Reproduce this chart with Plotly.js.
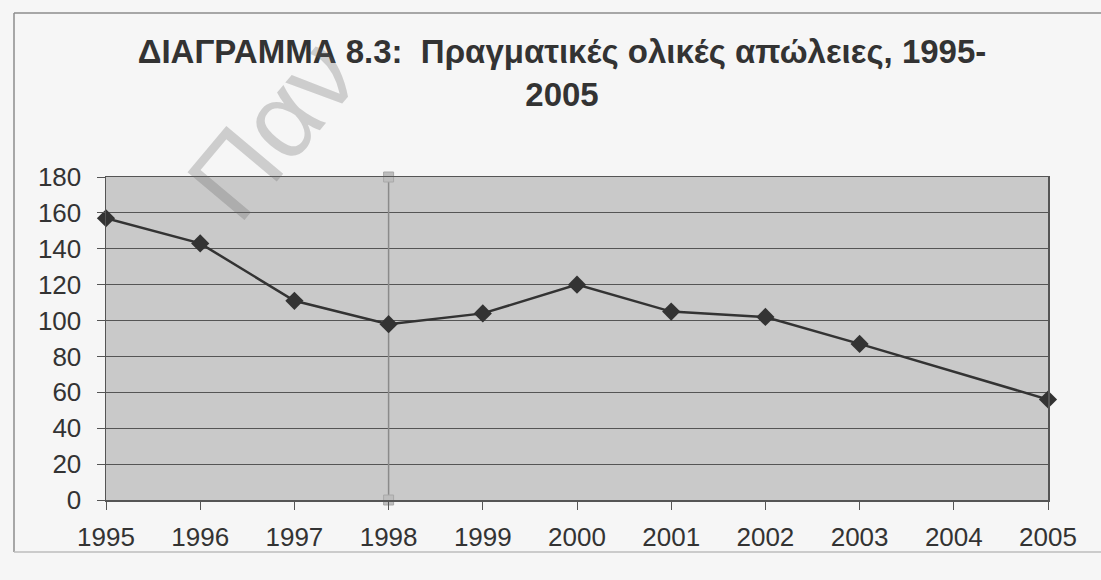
<!DOCTYPE html>
<html>
<head>
<meta charset="utf-8">
<script src="https://cdn.plot.ly/plotly-3.0.1.min.js"></script>
<style>html,body{margin:0;padding:0;background:#f6f6f6;}</style>
</head>
<body>
<div id="chart" style="width:1101px;height:580px;"></div>
<script>
const years = [1995, 1996, 1997, 1998, 1999, 2000, 2001, 2002, 2003, 2004, 2005];
const losses = [157, 143, 111, 98, 104, 120, 105, 102, 87, null, 56];
const markerYear = [1998, 1998];
const markerRange = [0, 180];
const yTicks = [0, 20, 40, 60, 80, 100, 120, 140, 160, 180];
const titleText = "ΔΙΑΓΡΑΜΜΑ 8.3:  Πραγματικές ολικές απώλειες, 1995-<br>2005";
const watermark = "Παν";

const L = 106, R = 1048, T = 177, B = 500;
const px = v => (v - L) / (R - L);
const py = v => (B - v) / (B - T);

const traces = [
  {
    x: markerYear, y: markerRange, type: 'scatter', mode: 'lines+markers',
    line: {color: '#8a8a8a', width: 1.5},
    marker: {symbol: 'square', size: 10, color: '#bdbdbd', line: {color: '#a8a8a8', width: 1}},
    cliponaxis: false, hoverinfo: 'skip', showlegend: false
  },
  {
    x: years, y: losses, type: 'scatter', mode: 'lines+markers',
    connectgaps: true,
    line: {color: '#333333', width: 2.5},
    marker: {symbol: 'diamond', size: 14, color: '#333333'},
    cliponaxis: false, showlegend: false
  }
];

const tickFont = {family: 'Liberation Sans, Arial, sans-serif', size: 26, color: '#333333'};

const layout = {
  width: 1101, height: 580,
  margin: {l: L, r: 1101 - R, t: T, b: 580 - B},
  paper_bgcolor: '#f6f6f6',
  plot_bgcolor: '#c9c9c9',
  showlegend: false,
  title: {
    text: titleText,
    font: {family: 'Liberation Sans, Arial, sans-serif', size: 33, color: '#333333', weight: 'bold'},
    x: 562 / 1101, xanchor: 'center', xref: 'container',
    y: 1 - 63 / 580, yanchor: 'top', yref: 'container'
  },
  xaxis: {
    range: [1995, 2005], tickvals: years, ticktext: years.map(String),
    showgrid: false, zeroline: false,
    showline: true, linecolor: '#555555', linewidth: 1.5, mirror: true,
    ticks: 'outside', ticklen: 8, tickcolor: '#555555', tickwidth: 1,
    ticklabelstandoff: 5,
    tickfont: tickFont
  },
  yaxis: {
    range: [0, 180], tickvals: yTicks,
    showgrid: true, gridcolor: '#555555', gridwidth: 1, zeroline: false,
    showline: true, linecolor: '#555555', linewidth: 1.5, mirror: true,
    ticks: 'outside', ticklen: 8, tickcolor: '#555555', tickwidth: 1,
    ticklabelstandoff: 10,
    tickfont: tickFont
  },
  shapes: [
    {type: 'line', xref: 'paper', yref: 'paper', x0: px(14), x1: px(14), y0: py(13), y1: py(552), line: {color: '#8c8c8c', width: 1.5}},
    {type: 'line', xref: 'paper', yref: 'paper', x0: px(14), x1: px(1101), y0: py(13), y1: py(13), line: {color: '#8c8c8c', width: 1.5}},
    {type: 'line', xref: 'paper', yref: 'paper', x0: px(14), x1: px(1101), y0: py(552), y1: py(552), line: {color: '#bdbdbd', width: 1.5}}
  ],
  annotations: [
    {
      text: watermark, xref: 'paper', yref: 'paper', x: px(272), y: py(128),
      xanchor: 'center', yanchor: 'middle',
      showarrow: false, textangle: -50,
      font: {family: 'Liberation Sans, Arial, sans-serif', size: 108, color: 'rgba(100,100,100,0.28)'}
    }
  ]
};

Plotly.newPlot('chart', traces, layout, {displayModeBar: false, staticPlot: true});
</script>
</body>
</html>
